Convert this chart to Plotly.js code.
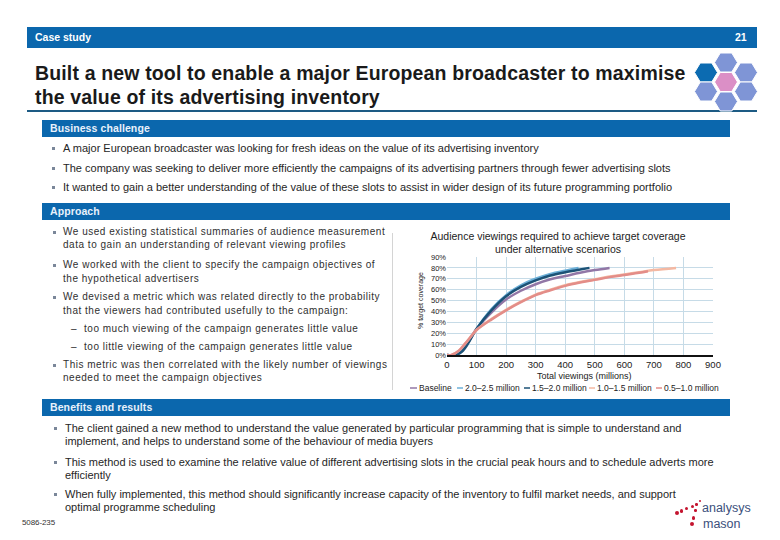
<!DOCTYPE html>
<html>
<head>
<meta charset="utf-8">
<script src="https://cdn.plot.ly/plotly-3.0.1.min.js"></script>
<style>
  html, body { margin: 0; padding: 0; background: #ffffff; }
  #slide { position: relative; width: 780px; height: 540px; overflow: hidden; background: #ffffff;
           font-family: "Liberation Sans", Arial, sans-serif; color: #222; }
  .abs { position: absolute; white-space: nowrap; }
  .bar { position: absolute; background: #0b67ad; }
  .barlbl { position: absolute; color: #e9f1fb; font-weight: bold; font-size: 10.5px; line-height: 12px; letter-spacing: 0.1px; }
  .t10 { position: absolute; white-space: nowrap; font-size: 11px; line-height: 12px; color: #262626; }
  .tap { position: absolute; white-space: nowrap; font-size: 10px; line-height: 12px; color: #303030; letter-spacing: 0.52px; }
  .sq { position: absolute; width: 3px; height: 3px; background: #7a8799; }
  .dot { position: absolute; border-radius: 50%; background: #c4142f; }
  #chart { position: absolute; left: 395px; top: 222px; width: 340px; height: 175px; }
</style>
</head>
<body>
<div id="slide">
  <!-- header -->
  <div class="bar" style="left:27px; top:27px; width:730px; height:21px;"></div>
  <div class="abs" style="left:35px; top:31px; font-size:10.5px; line-height:12px; color:#fff; font-weight:bold;">Case study</div>
  <div class="abs" style="left:735px; top:31px; font-size:10.5px; line-height:12px; color:#fff; font-weight:bold;">21</div>

  <!-- title -->
  <div class="abs" style="left:35px; top:61px; font-size:19.5px; line-height:24px; font-weight:bold; color:#1a1a1a; letter-spacing:0.15px;">Built a new tool to enable a major European broadcaster to maximise</div>
  <div class="abs" style="left:35px; top:85px; font-size:19.5px; line-height:24px; font-weight:bold; color:#1a1a1a; letter-spacing:0.15px;">the value of its advertising inventory</div>
  <div class="bar" style="left:27px; top:110px; width:730px; height:2px; background:#1d5b84;"></div>

  <!-- hexagon logo -->
  <svg class="abs" style="left:690px; top:45px;" width="80" height="75" viewBox="690 45 80 75">
    <g stroke="#ffffff" stroke-width="1">
      <polygon points="737.5,62.5 731.75,72 720.25,72 714.5,62.5 720.25,53 731.75,53" fill="#7f95d6"/>
      <polygon points="717.5,72.5 711.75,82 700.25,82 694.5,72.5 700.25,63 711.75,63" fill="#0c6bb1"/>
      <polygon points="757.5,72.5 751.75,82 740.25,82 734.5,72.5 740.25,63 751.75,63" fill="#7f95d6"/>
      <polygon points="737.5,82 731.75,91.5 720.25,91.5 714.5,82 720.25,72.5 731.75,72.5" fill="#db8fc6"/>
      <polygon points="717.5,91.5 711.75,101 700.25,101 694.5,91.5 700.25,82 711.75,82" fill="#7f95d6"/>
      <polygon points="757.5,91.5 751.75,101 740.25,101 734.5,91.5 740.25,82 751.75,82" fill="#7f95d6"/>
      <polygon points="737.5,101.5 731.75,111 720.25,111 714.5,101.5 720.25,92 731.75,92" fill="#7f95d6"/>
    </g>
  </svg>

  <!-- Business challenge -->
  <div class="bar" style="left:42px; top:120px; width:688px; height:17px;"></div>
  <div class="barlbl" style="left:50px; top:122px;">Business challenge</div>
  <div class="sq" style="left:52px; top:147px;"></div>
  <div class="t10" style="left:63px; top:142px;">A major European broadcaster was looking for fresh ideas on the value of its advertising inventory</div>
  <div class="sq" style="left:52px; top:167px;"></div>
  <div class="t10" style="left:63px; top:162px;">The company was seeking to deliver more efficiently the campaigns of its advertising partners through fewer advertising slots</div>
  <div class="sq" style="left:52px; top:186px;"></div>
  <div class="t10" style="left:63px; top:181px;">It wanted to gain a better understanding of the value of these slots to assist in wider design of its future programming portfolio</div>

  <!-- Approach -->
  <div class="bar" style="left:42px; top:203px; width:688px; height:17px;"></div>
  <div class="barlbl" style="left:50px; top:205px;">Approach</div>
  <div class="sq" style="left:53px; top:231px;"></div>
  <div class="tap" style="left:63px; top:226px;">We used existing statistical summaries of audience measurement</div>
  <div class="tap" style="left:63px; top:239px;">data to gain an understanding of relevant viewing profiles</div>
  <div class="sq" style="left:53px; top:264px;"></div>
  <div class="tap" style="left:63px; top:259px;">We worked with the client to specify the campaign objectives of</div>
  <div class="tap" style="left:63px; top:273px;">the hypothetical advertisers</div>
  <div class="sq" style="left:53px; top:296px;"></div>
  <div class="tap" style="left:63px; top:291px;">We devised a metric which was related directly to the probability</div>
  <div class="tap" style="left:63px; top:305px;">that the viewers had contributed usefully to the campaign:</div>
  <div class="tap" style="left:71px; top:323px;">–</div>
  <div class="tap" style="left:84px; top:323px;">too much viewing of the campaign generates little value</div>
  <div class="tap" style="left:71px; top:341px;">–</div>
  <div class="tap" style="left:84px; top:341px;">too little viewing of the campaign generates little value</div>
  <div class="sq" style="left:53px; top:364px;"></div>
  <div class="tap" style="left:63px; top:359px;">This metric was then correlated with the likely number of viewings</div>
  <div class="tap" style="left:63px; top:372px;">needed to meet the campaign objectives</div>
  <div class="bar" style="left:392px; top:233px; width:1px; height:157px; background:#d4d4d4;"></div>

  <!-- Benefits -->
  <div class="bar" style="left:42px; top:399px; width:688px; height:17px;"></div>
  <div class="barlbl" style="left:50px; top:401px;">Benefits and results</div>
  <div class="sq" style="left:54px; top:427px;"></div>
  <div class="t10" style="left:65px; top:422px;">The client gained a new method to understand the value generated by particular programming that is simple to understand and</div>
  <div class="t10" style="left:65px; top:435px;">implement, and helps to understand some of the behaviour of media buyers</div>
  <div class="sq" style="left:54px; top:461px;"></div>
  <div class="t10" style="left:65px; top:456px;">This method is used to examine the relative value of different advertising slots in the crucial peak hours and to schedule adverts more</div>
  <div class="t10" style="left:65px; top:469px;">efficiently</div>
  <div class="sq" style="left:54px; top:493px;"></div>
  <div class="t10" style="left:65px; top:488px;">When fully implemented, this method should significantly increase capacity of the inventory to fulfil market needs, and support</div>
  <div class="t10" style="left:65px; top:501px;">optimal programme scheduling</div>

  <!-- footer -->
  <div class="abs" style="left:22px; top:518px; font-size:8px; line-height:9px; color:#333; letter-spacing:-0.1px;">5086-235</div>
  <div class="dot" style="left:675px; top:511px; width:4px; height:4px;"></div>
  <div class="dot" style="left:679.5px; top:509px; width:3.5px; height:3.5px;"></div>
  <div class="dot" style="left:685px; top:507px; width:3px; height:3px;"></div>
  <div class="dot" style="left:690.5px; top:505px; width:3px; height:3px;"></div>
  <div class="dot" style="left:695px; top:503px; width:2.5px; height:2.5px;"></div>
  <div class="dot" style="left:698.5px; top:500px; width:2px; height:2px;"></div>
  <div class="dot" style="left:694px; top:509px; width:2.5px; height:2.5px;"></div>
  <div class="dot" style="left:691.5px; top:516px; width:3.5px; height:3.5px;"></div>
  <div class="dot" style="left:689.5px; top:521.5px; width:4.5px; height:4.5px;"></div>
  <div class="abs" style="left:702px; top:502px; font-size:12.5px; line-height:12px; color:#3b4f7c;">analysys</div>
  <div class="abs" style="left:703px; top:518px; font-size:12.5px; line-height:12px; color:#3b4f7c;">mason</div>

  <div id="chart"></div>
</div>

<script>
// ---- data ----
const seriesNames = ["Baseline", "2.0–2.5 million", "1.5–2.0 million", "1.0–1.5 million", "0.5–1.0 million"];

const xBaseline = [0, 25, 50, 70, 100, 150, 200, 250, 300, 350, 400, 450, 500, 550];
const yBaseline = [0, 0, 5, 11, 24, 39, 51, 59, 65, 69.5, 72.5, 75.5, 78, 80];

const x2025 = [0, 28, 50, 70, 100, 150, 200, 250, 300, 350, 400, 445];
const y2025 = [0, 0, 4, 11, 24, 42, 55, 64, 70, 74.5, 77.5, 80];

const x1520 = [0, 30, 50, 70, 100, 150, 200, 250, 300, 350, 400, 450, 482];
const y1520 = [0, 0, 3, 10, 24, 41, 54, 62.5, 68.5, 73, 76, 78.5, 80];

const x1015 = [0, 15, 40, 60, 90, 100, 150, 200, 250, 300, 350, 400, 450, 500, 550, 600, 650, 700, 775];
const y1015 = [0, 0, 4, 10, 20, 23, 33, 41.5, 49, 55.5, 60, 64, 67, 69.5, 72, 74, 76, 78, 80];

const x0510 = [0, 15, 40, 60, 90, 100, 150, 200, 250, 300, 350, 400, 450, 500, 550, 600, 650, 680];
const y0510 = [0, 0, 4, 10, 20, 23, 32.5, 41, 48.5, 55, 59.5, 63.5, 66.5, 69, 71.5, 73.5, 75.5, 77];

const xTicks = [0, 100, 200, 300, 400, 500, 600, 700, 800, 900];
const yTicks = [0, 10, 20, 30, 40, 50, 60, 70, 80, 90];

const chartTitle = "Audience viewings required to achieve target coverage<br>under alternative scenarios";
const xTitle = "Total viewings (millions)";
const yTitle = "% target coverage";

// ---- styles ----
const colors = ["#9277a6", "#6db0d8", "#1c5276", "#f4b8a2", "#e38d88"];
const xs = [xBaseline, x2025, x1520, x1015, x0510];
const ys = [yBaseline, y2025, y1520, y1015, y0510];

const traces = seriesNames.map((n, i) => ({
  type: "scatter", mode: "lines", name: n, x: xs[i], y: ys[i],
  line: { color: colors[i], width: 2.5, shape: "spline", smoothing: 1 },
  hoverinfo: "skip"
}));

// plot area in page pixels: x 447..713, y 257..355 ; div origin (395,222)
const PL = 447, PR = 713, PT = 257, PB = 355;
const px = p => (p - PL) / (PR - PL);
const py = p => (PB - p) / (PB - PT);

const legendLine = [[410, 417], [457, 463], [524, 530], [589, 595], [656, 662]];
const legendText = [418, 464, 531, 596, 663];
const legendY = 388;

const shapes = legendLine.map((l, i) => ({
  type: "line", xref: "paper", yref: "paper",
  x0: px(l[0]), x1: px(l[1]), y0: py(legendY), y1: py(legendY),
  line: { color: colors[i], width: 1.5 }
}));

const annotations = seriesNames.map((n, i) => ({
  xref: "paper", yref: "paper", x: px(legendText[i]), y: py(legendY),
  xanchor: "left", yanchor: "middle", showarrow: false, text: n,
  font: { size: 8.5, color: "#222" }, borderpad: 0
}));
annotations.push({
  xref: "paper", yref: "paper", x: px(584), y: py(376), xanchor: "center", yanchor: "middle",
  showarrow: false, text: xTitle, font: { size: 9, color: "#222" }
});
annotations.push({
  xref: "paper", yref: "paper", x: px(421), y: py(301), xanchor: "center", yanchor: "middle",
  showarrow: false, text: yTitle, textangle: -90, font: { size: 7, color: "#222" }
});

const layout = {
  width: 340, height: 175,
  margin: { l: PL - 395, r: 340 - (PR - 395), t: PT - 222, b: 175 - (PB - 222), pad: 0 },
  paper_bgcolor: "rgba(0,0,0,0)", plot_bgcolor: "#ffffff",
  font: { family: "Liberation Sans, Arial, sans-serif", color: "#222" },
  showlegend: false,
  title: { text: chartTitle, xref: "container", yref: "container", x: (558 - 395) / 340, y: 1 - 17.5 / 175,
           xanchor: "center", yanchor: "middle", font: { size: 10.5, color: "#222" } },
  xaxis: { range: [0, 900], tickvals: xTicks, ticktext: xTicks.map(String), showgrid: true, gridcolor: "#c6dbe7",
           gridwidth: 1, zeroline: false, showline: true, linecolor: "#111", linewidth: 1.5,
           ticks: "", tickfont: { size: 9.5, color: "#222" }, fixedrange: true },
  yaxis: { range: [0, 90], tickvals: yTicks, ticktext: yTicks.map(v => v + "%"), showgrid: true, gridcolor: "#c6dbe7",
           gridwidth: 1, zeroline: false, showline: false, ticks: "", tickfont: { size: 7.5, color: "#222" },
           fixedrange: true },
  shapes: shapes,
  annotations: annotations
};

Plotly.newPlot("chart", traces, layout, { displayModeBar: false, staticPlot: true });
</script>
</body>
</html>
